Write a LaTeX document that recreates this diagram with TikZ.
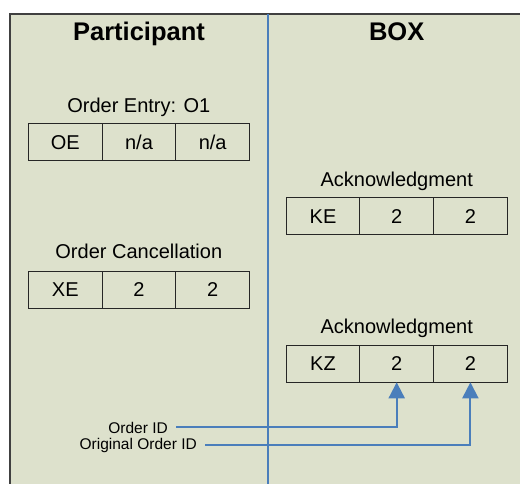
\documentclass[tikz,border=0pt]{standalone}
\usepackage{fontspec}
\setmainfont{Liberation Sans}
\usepackage{xcolor}
\usetikzlibrary{arrows.meta}
\usetikzlibrary{positioning}
\definecolor{panel}{RGB}{221,225,204}
\definecolor{lane}{RGB}{74,126,187}

\begin{document}
\begin{tikzpicture}[x=1pt, y=-1pt,
    cell/.style={draw=black!85, line width=1pt, minimum width=73.7pt, minimum height=37pt,
                 inner sep=0pt, outer sep=0pt, font=\fontsize{20}{24}\selectfont},
    msg/.style={anchor=base, font=\fontsize{20}{24}\selectfont},
    head/.style={anchor=base, font=\fontsize{25.5}{30}\selectfont\bfseries},
    tag/.style={anchor=base east, inner xsep=8pt, font=\fontsize{15.5}{18}\selectfont},
    link/.style={lane, line width=2pt, -{Triangle[length=16pt,width=16pt]}}]
    \useasboundingbox (0,0) rectangle (520,484);
    \fill[panel] (10,14) rectangle (520,484);
    \draw[black!75, line width=1.3pt] (10,484) -- (10,14) -- (520,14);
    \draw[lane, line width=2pt] (268,14) -- (268,484);

    \node[head] (part) at (139,40.5) {Participant};
    \node[head] (box) at (396.7,40.5) {BOX};

    % participant side
    \node[msg] (oelabel) at (138.8,113) {Order Entry: O1};
    \node[cell] (oe1) at (65.3,142.5) {OE};
    \node[cell, right=0pt of oe1] (oe2) {n/a};
    \node[cell, right=0pt of oe2] (oe3) {n/a};

    \node[msg] (xelabel) at (138.8,258.3) {Order Cancellation};
    \node[cell] (xe1) at (65.3,290) {XE};
    \node[cell, right=0pt of xe1] (xe2) {2};
    \node[cell, right=0pt of xe2] (xe3) {2};

    % box side
    \node[msg] (kelabel) at (396.7,186.7) {Acknowledgment};
    \node[cell] (ke1) at (323,216.3) {KE};
    \node[cell, right=0pt of ke1] (ke2) {2};
    \node[cell, right=0pt of ke2] (ke3) {2};

    \node[msg] (kzlabel) at (396.7,333.3) {Acknowledgment};
    \node[cell] (kz1) at (323,363.8) {KZ};
    \node[cell, right=0pt of kz1] (kz2) {2};
    \node[cell, right=0pt of kz2] (kz3) {2};

    \node[tag] (oid) at (176,433) {Order ID};
    \node[tag] (origid) at (205,449) {Original Order ID};
    \draw[link] (oid) -| (kz2.south);
    \draw[link] (origid) -| (kz3.south);
\end{tikzpicture}
\end{document}
